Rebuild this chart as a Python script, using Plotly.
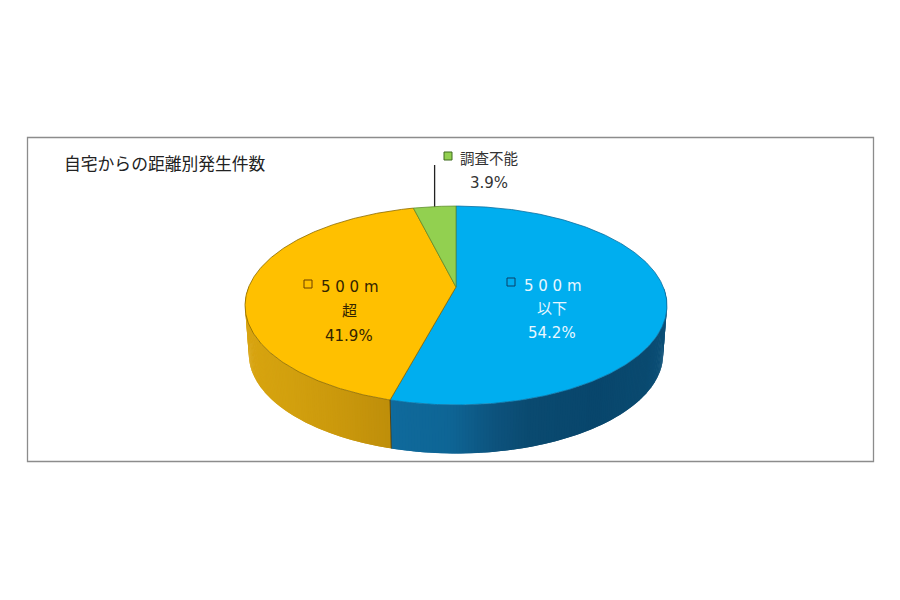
import math
import plotly.graph_objects as go

categories = ["500m以下", "500m超", "調査不能"]
shares = [54.2, 41.9, 3.9]
top_colors = ["#00AEEF", "#FFC000", "#92D050"]
edge_colors = ["#0B6FA0", "#8A6A00", "#5F8F2E"]
title_text = "自宅からの距離別発生件数"

# projection of the tilted disc onto the page (page pixels)
CX, CY, BX, AY, K, DEPTH, NARROW = 456.0, 287.0, 207.3, 96.0, 0.186, 48.5, 0.982
FONT = "DejaVu Sans, Noto Sans CJK JP"


def rim(theta, lower=False):
    u, v = math.sin(theta), -math.cos(theta)
    w = 1 - K * v
    x, y = CX + BX * u / w, CY + AY * v / w
    if lower:
        x = CX + (x - CX) * NARROW
        y = y + DEPTH
    return x, y


def hex2rgb(h):
    return [int(h[i:i + 2], 16) for i in (1, 3, 5)]


def ramp(stops, x):
    if x <= stops[0][0]:
        return stops[0][1]
    for (x0, c0), (x1, c1) in zip(stops, stops[1:]):
        if x <= x1:
            t = (x - x0) / (x1 - x0)
            a, b = hex2rgb(c0), hex2rgb(c1)
            return "rgb(%d,%d,%d)" % tuple(round(p + (q - p) * t) for p, q in zip(a, b))
    return stops[-1][1]


wall_blue = [(391, "#0F6A9C"), (450, "#0E6595"), (497, "#0D527C"), (530, "#0A4A70"),
             (597, "#08466C"), (647, "#0A4A70"), (668, "#0C5078")]
wall_yellow = [(245, "#D8A410"), (290, "#D2A00E"), (340, "#CA980C"), (392, "#BE8E0A")]

fig = go.Figure()

total = sum(shares)
bounds = [0.0]
for s in shares:
    bounds.append(bounds[-1] + s / total * 2 * math.pi)

# side wall: overlapping strips between the upper and lower rim
for i, (a0, a1) in enumerate(zip(bounds, bounds[1:])):
    if i == 2:
        continue
    stops = wall_blue if i == 0 else wall_yellow
    n = max(2, int((a1 - a0) / 0.012))
    step = (a1 - a0) / n
    for j in range(n):
        t0 = a0 + step * j
        t1 = min(t0 + 2 * step, a1)
        if math.cos(t0 + step / 2) > 0:
            continue
        p = [rim(t0), rim(t1), rim(t1, True), rim(t0, True), rim(t0)]
        col = ramp(stops, rim(t0 + step / 2)[0])
        fig.add_trace(go.Scatter(x=[q[0] for q in p], y=[q[1] for q in p], mode="lines",
                                 fill="toself", fillcolor=col, line=dict(width=0),
                                 hoverinfo="skip", showlegend=False))

# top face slices
for i, (a0, a1) in enumerate(zip(bounds, bounds[1:])):
    n = max(4, int((a1 - a0) / 0.01))
    pts = [(CX, CY)] + [rim(a0 + (a1 - a0) * j / n) for j in range(n + 1)] + [(CX, CY)]
    fig.add_trace(go.Scatter(x=[q[0] for q in pts], y=[q[1] for q in pts], mode="lines",
                             fill="toself", fillcolor=top_colors[i],
                             line=dict(color=edge_colors[i], width=0.8),
                             name=categories[i], showlegend=False))

# seam between the two visible wall pieces
s0, s1 = rim(bounds[1]), rim(bounds[1], True)
fig.add_trace(go.Scatter(x=[s0[0], s1[0]], y=[s0[1], s1[1]], mode="lines",
                         line=dict(color="#4A3A10", width=0.9), hoverinfo="skip", showlegend=False))

# leader line for the small slice
lx, ly = rim((bounds[2] + bounds[3]) / 2)
fig.add_trace(go.Scatter(x=[lx, lx], y=[ly, 165], mode="lines",
                         line=dict(color="#222222", width=1.3), hoverinfo="skip", showlegend=False))

# label key squares
key_x = [511, 308, 448]
key_y = [282, 284, 156]
key_line = ["#0B3F66", "#6B3F00", "#3F6B1E"]
for i in range(3):
    fig.add_trace(go.Scatter(x=[key_x[i]], y=[key_y[i]], mode="markers",
                             marker=dict(symbol="square", size=8, color=top_colors[i],
                                         line=dict(color=key_line[i], width=1)),
                             hoverinfo="skip", showlegend=False))

labels = [
    ("5 0 0 m", 553, 286, "#E8F7FF", 15), ("以下", 552, 309, "#E8F7FF", 15),
    ("%.1f%%" % shares[0], 552, 333, "#E8F7FF", 15),
    ("調査不能", 489, 159, "#333333", 14.5), ("%.1f%%" % shares[2], 489, 183, "#333333", 15),
    ("5 0 0 m", 350, 287, "#332400", 15), ("超", 349, 311, "#332400", 15),
    ("%.1f%%" % shares[1], 349, 336, "#332400", 15),
]
annotations = [dict(x=x, y=y, text=t, showarrow=False, xanchor="center", yanchor="middle",
                    font=dict(family=FONT, size=s, color=c)) for t, x, y, c, s in labels]
annotations.append(dict(x=62, y=163, text=title_text, showarrow=False, xanchor="left", yanchor="middle",
                        font=dict(family="Noto Sans CJK JP", size=16.8, color="#222222")))

# the page adds an 8px body margin, so the axes start at 8 to keep page pixels
fig.update_layout(
    width=900, height=600, margin=dict(l=0, r=0, t=0, b=0), autosize=False,
    paper_bgcolor="white", plot_bgcolor="white", showlegend=False,
    xaxis=dict(range=[8, 908], visible=False, fixedrange=True),
    yaxis=dict(range=[608, 8], visible=False, fixedrange=True),
    annotations=annotations,
    shapes=[dict(type="rect", x0=27.5, y0=137.5, x1=873.5, y1=461.5,
                 line=dict(color="#8C8C8C", width=1.3), fillcolor="rgba(0,0,0,0)", layer="below")],
)
fig.write_html("out.html", config={"displayModeBar": False})
